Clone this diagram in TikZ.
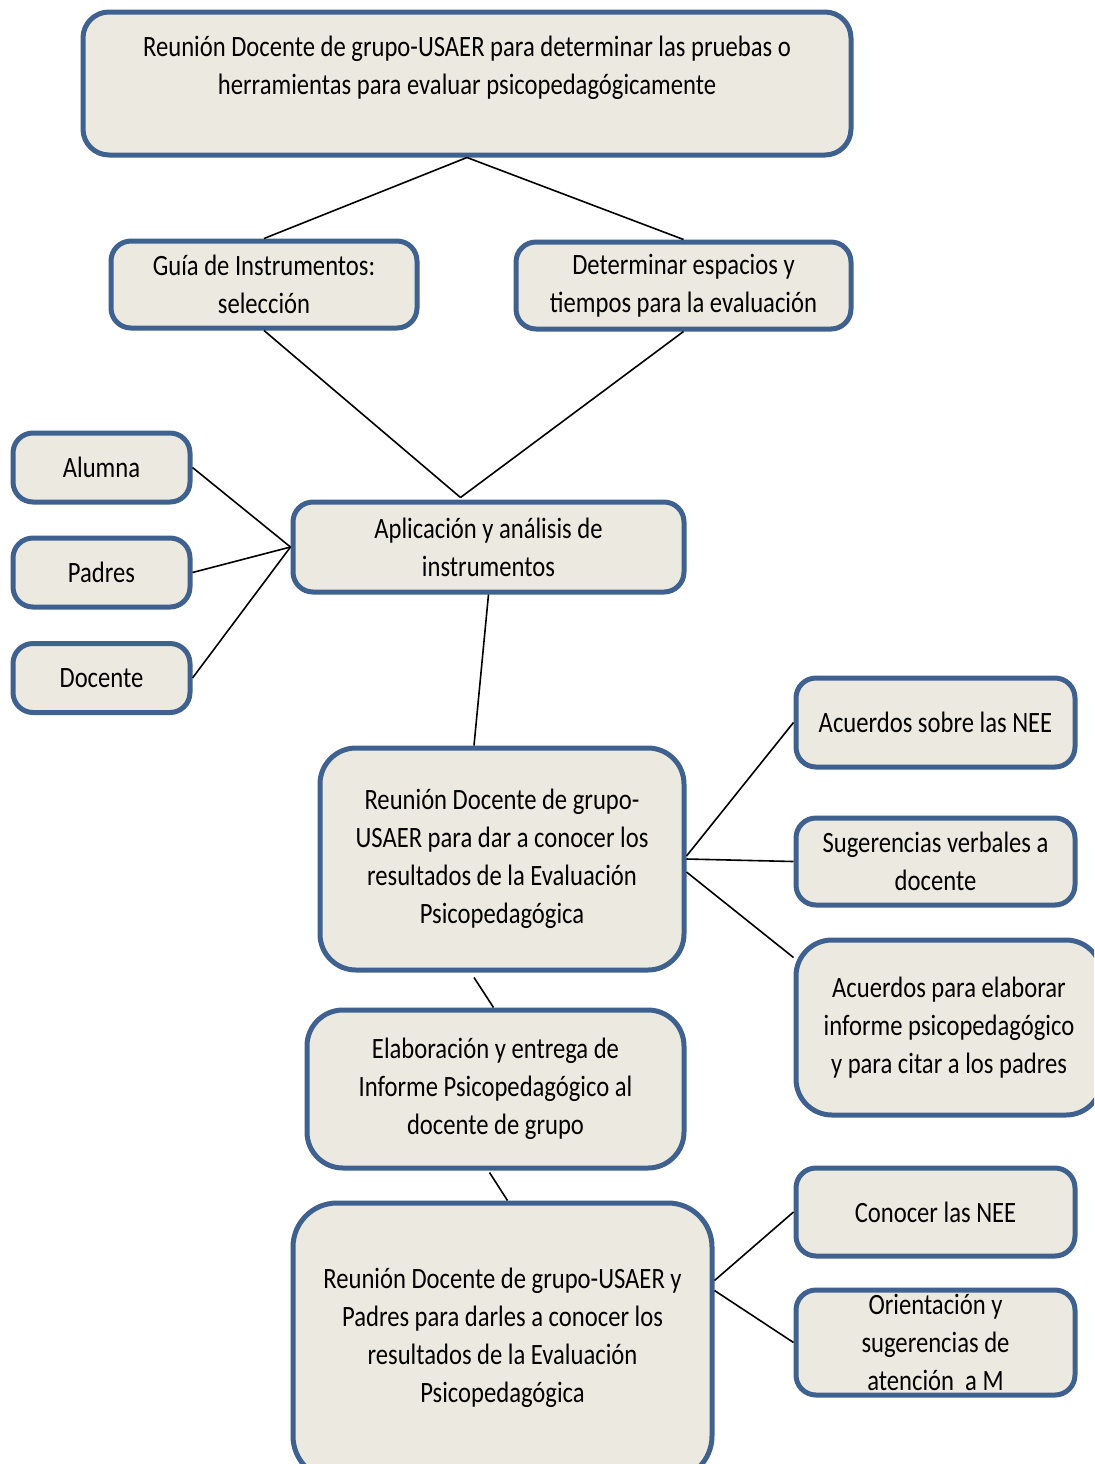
\documentclass[tikz,border=0pt]{standalone}
\usepackage{fontspec}
\setmainfont{Carlito}[FakeStretch=0.835]
\usetikzlibrary{calc}
\definecolor{bxborder}{HTML}{3E6190}
\definecolor{bxfill}{HTML}{ECEAE0}
\begin{document}
\begin{tikzpicture}[x=0.5pt,y=-0.5pt,
  bx/.style={draw=bxborder,fill=bxfill,line width=2.5pt,rounded corners=10pt,
    align=center,inner sep=0pt,font=\fontsize{14.75pt}{19pt}\selectfont},
  big/.style={bx,rounded corners=18pt},
  txt/.style={align=center,inner sep=0pt,font=\fontsize{14.75pt}{19pt}\selectfont},
  ln/.style={draw=black,line width=0.8pt}]
\useasboundingbox (0,0) rectangle (1094,1464);
\clip (0,0) rectangle (1094,1464);
% boxes
\node[bx,rounded corners=13pt,minimum width=384pt,minimum height=71.5pt] (top) at (467,83.5) {};
\node[txt] (toptxt) at (467,68) {Reunión Docente de grupo-USAER para determinar las pruebas o\\herramientas para evaluar psicopedagógicamente};
\node[bx,minimum width=153pt,minimum height=43.5pt] (gui) at (264,284.5) {Guía de Instrumentos:\\selección};
\node[bx,minimum width=167.5pt,minimum height=43.5pt] (det) at (683.5,285.5) {Determinar espacios y\\tiempos para la evaluación};
\node[bx,minimum width=88.5pt,minimum height=34.5pt] (alu) at (101.5,467.5) {Alumna};
\node[bx,minimum width=88.5pt,minimum height=34.5pt] (pad) at (101.5,572.5) {Padres};
\node[bx,minimum width=88.5pt,minimum height=34.5pt] (doc) at (101.5,678) {Docente};
\node[bx,minimum width=195.5pt,minimum height=45pt] (apl) at (488.5,547) {Aplicación y análisis de\\instrumentos};
\node[big,minimum width=182pt,minimum height=111pt] (r2) at (502,859) {Reunión Docente de grupo-\\USAER para dar a conocer los\\resultados de la Evaluación\\Psicopedagógica};
\node[bx,minimum width=139.5pt,minimum height=44.5pt] (nee) at (935.5,722.5) {Acuerdos sobre las NEE};
\node[bx,minimum width=139.5pt,minimum height=43.5pt] (sug) at (935.5,861.5) {Sugerencias verbales a\\docente};
\node[big,minimum width=153pt,minimum height=87.5pt] (aco) at (949,1027.5) {Acuerdos para elaborar\\informe psicopedagógico\\y para citar a los padres};
\node[big,minimum width=188.5pt,minimum height=79pt] (ela) at (495.5,1089) {Elaboración y entrega de\\Informe Psicopedagógico al\\docente de grupo};
\node[bx,minimum width=139.5pt,minimum height=44pt] (con) at (935.5,1212) {Conocer las NEE};
\node[bx,minimum width=139.5pt,minimum height=52.5pt] (ori) at (935.5,1342.5) {Orientación y\\sugerencias de\\atención~ a M};
\node[big,rounded corners=22pt,minimum width=209.5pt,minimum height=138.5pt] (r3) at (502.5,1341.5) {};
\node[txt] (r3txt) at (502.5,1338) {Reunión Docente de grupo-USAER y\\Padres para darles a conocer los\\resultados de la Evaluación\\Psicopedagógica};
% connectors
\coordinate (aplin) at ($(apl.north)+(-28,-2)$);
\coordinate (aplw) at ($(apl.west)+(0,0)$);
\draw[ln] (top.south) -- (gui.north);
\draw[ln] (top.south) -- (det.north);
\draw[ln] (gui.south) -- (aplin);
\draw[ln] (det.south) -- (aplin);
\draw[ln] (alu.east) -- (aplw);
\draw[ln] (pad.east) -- (aplw);
\draw[ln] (doc.east) -- (aplw);
\draw[ln] (apl.south) -- ($(r2.north)+(-28,0)$);
\draw[ln] ($(r2.east)+(0,-3)$) -- (nee.west);
\draw[ln] (r2.east) -- (sug.west);
\draw[ln] ($(r2.east)+(0,13)$) -- ($(aco.west)+(0,-70)$);
\draw[ln] ($(r2.south)+(-28,5)$) -- ($(ela.north)+(-2,0)$);
\draw[ln] ($(ela.south)+(-6,2)$) -- ($(r3.north)+(5,0)$);
\draw[ln] ($(r3.east)+(0,-61)$) -- (con.west);
\draw[ln] ($(r3.east)+(0,-51)$) -- (ori.west);
\end{tikzpicture}
\end{document}
